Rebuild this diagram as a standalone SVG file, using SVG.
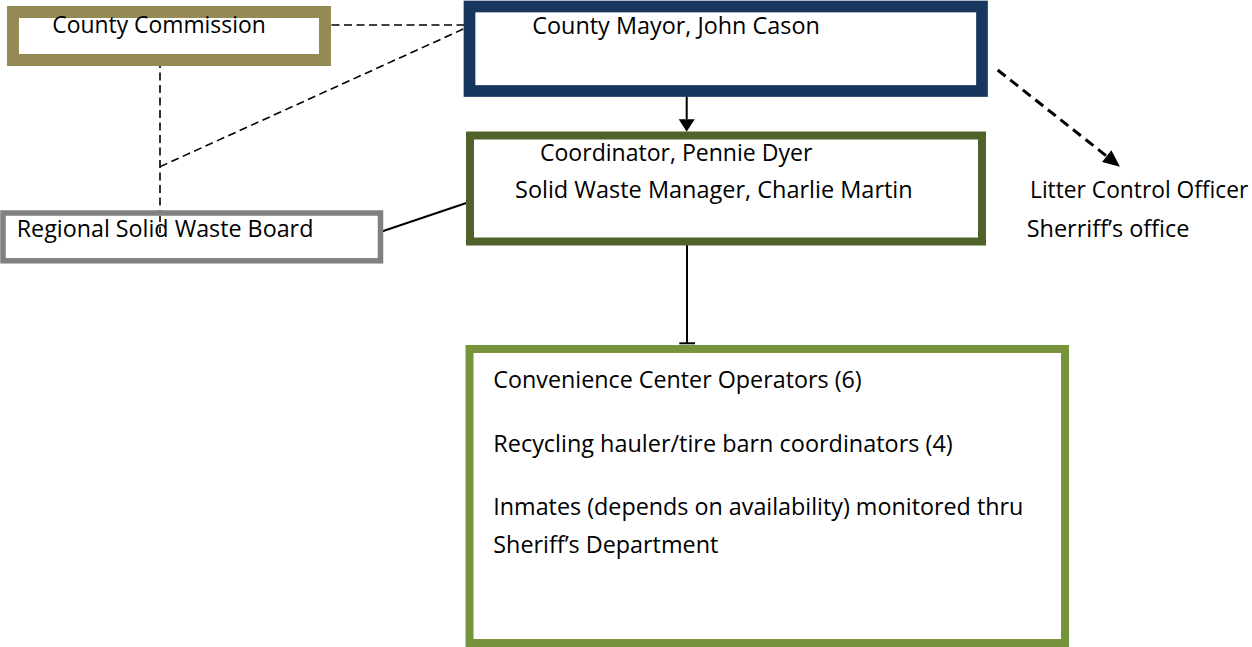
<svg xmlns="http://www.w3.org/2000/svg" width="1252" height="647" viewBox="0 0 1252 647">
  <style>
    .box { fill: #ffffff; }
    .lbl { font-family: "Open Sans", "Liberation Sans", sans-serif; font-size: 23px; fill: #000000; }
    .dash { fill: none; stroke: #000000; stroke-width: 1.6; stroke-dasharray: 8 4.5; }
    .dash-thick { fill: none; stroke: #000000; stroke-width: 3; stroke-dasharray: 10 6; }
    .solid { fill: none; stroke: #000000; stroke-width: 2; }
  </style>
  <defs>
    <marker id="headDown" markerUnits="userSpaceOnUse" markerWidth="14" markerHeight="17" refX="0" refY="8" orient="auto" overflow="visible">
      <path d="M0,0 L12.5,8 L0,16 Z" fill="#000000"/>
    </marker>
    <marker id="headDiag" markerUnits="userSpaceOnUse" markerWidth="18" markerHeight="16" refX="0" refY="7.5" orient="auto" overflow="visible">
      <path d="M0,0 L17,7.5 L0,15 Z" fill="#000000"/>
    </marker>
  </defs>

  <!-- connectors -->
  <g id="connectors">
    <line class="dash" x1="319" y1="25" x2="470" y2="25"/>
    <line class="dash" x1="160" y1="166.7" x2="470" y2="26"/>
    <line class="dash" x1="160" y1="60" x2="160" y2="233"/>
    <line class="solid" x1="381" y1="231.7" x2="470" y2="201.7" stroke-width="1.8"/>
    <line class="solid" x1="686.7" y1="79" x2="686.7" y2="119.3" marker-end="url(#headDown)"/>
    <line class="solid" x1="687" y1="232.7" x2="687" y2="343.3"/>
    <line class="solid" x1="679.3" y1="343.3" x2="695" y2="343.3"/>
    <line class="dash-thick" x1="997.7" y1="70" x2="1106.7" y2="156.2" marker-end="url(#headDiag)"/>
  </g>

  <!-- nodes -->
  <g id="county-commission">
    <rect class="box" x="13" y="12" width="312" height="48" stroke="#948b54" stroke-width="12"/>
    <text class="lbl" x="52.3" y="33.3" textLength="213.4" lengthAdjust="spacingAndGlyphs">County Commission</text>
  </g>

  <g id="county-mayor">
    <rect class="box" x="469.5" y="6.5" width="512.5" height="84.5" stroke="#17375e" stroke-width="11.7"/>
    <text class="lbl" x="532.3" y="34.4" textLength="287.5" lengthAdjust="spacingAndGlyphs">County Mayor, John Cason</text>
  </g>

  <g id="coordinator">
    <rect class="box" x="470" y="135.5" width="512" height="106" stroke="#4f6229" stroke-width="8"/>
    <text class="lbl" x="540" y="160.7" textLength="272.3" lengthAdjust="spacingAndGlyphs">Coordinator, Pennie Dyer</text>
    <text class="lbl" x="515" y="198.3" textLength="397.7" lengthAdjust="spacingAndGlyphs">Solid Waste Manager, Charlie Martin</text>
  </g>

  <g id="regional-board">
    <rect class="box" x="3" y="213" width="377.5" height="47.8" stroke="#808080" stroke-width="5.5"/>
    <text class="lbl" x="16.7" y="236.7" textLength="296.7" lengthAdjust="spacingAndGlyphs">Regional Solid Waste Board</text>
  </g>
  <!-- dashed link drawn across the board's label -->
  <line class="dash" x1="160" y1="216" x2="160" y2="233" stroke-dashoffset="2"/>

  <g id="litter-control">
    <text class="lbl" x="1030" y="198.3" textLength="218.3" lengthAdjust="spacingAndGlyphs">Litter Control Officer</text>
    <text class="lbl" x="1026.7" y="236.7" textLength="162.7" lengthAdjust="spacingAndGlyphs">Sherriff’s office</text>
  </g>

  <g id="staff">
    <rect class="box" x="469.5" y="349" width="595.5" height="294" stroke="#77933c" stroke-width="8"/>
    <text class="lbl" x="493.3" y="388.3" textLength="368.4" lengthAdjust="spacingAndGlyphs">Convenience Center Operators (6)</text>
    <text class="lbl" x="493.3" y="451.7" textLength="459.4" lengthAdjust="spacingAndGlyphs">Recycling hauler/tire barn coordinators (4)</text>
    <text class="lbl" x="493.3" y="515" textLength="530" lengthAdjust="spacingAndGlyphs">Inmates (depends on availability) monitored thru</text>
    <text class="lbl" x="493.3" y="552.7" textLength="225" lengthAdjust="spacingAndGlyphs">Sheriff’s Department</text>
  </g>
</svg>
